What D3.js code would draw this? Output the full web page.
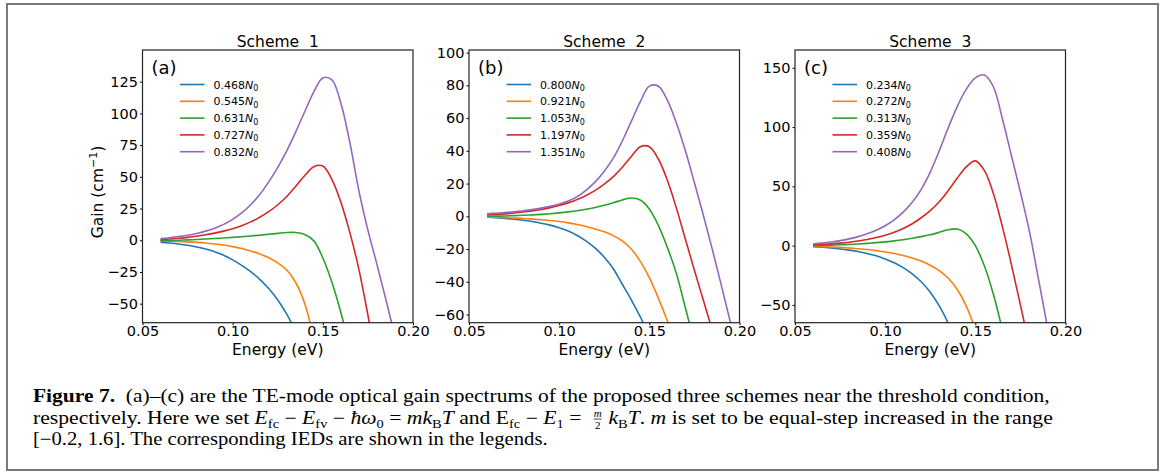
<!DOCTYPE html>
<html>
<head>
<meta charset="utf-8">
<script src="https://cdn.jsdelivr.net/npm/d3@7"></script>
<style>
  body { margin: 0; background: #fff; }
  svg { display: block; }
  .tick text { font-family: "DejaVu Sans", sans-serif; }
</style>
</head>
<body>
<svg id="fig" width="1165" height="472"></svg>
<script>
// Data (gain in cm^-1 against photon energy in eV)
const energy = [0.06, 0.065, 0.07, 0.075, 0.08, 0.085, 0.09, 0.095, 0.10, 0.105,
    0.11, 0.115, 0.12, 0.125, 0.13, 0.135, 0.14, 0.145, 0.15, 0.155,
    0.16, 0.165, 0.17, 0.175, 0.18, 0.185, 0.19, 0.195, 0.20]

const schemeTitles = ["Scheme  1", "Scheme  2", "Scheme  3"]
const panelLetters = ["(a)", "(b)", "(c)"]

const iedScheme1 = ["0.468", "0.545", "0.631", "0.727", "0.832"]
const iedScheme2 = ["0.800", "0.921", "1.053", "1.197", "1.351"]
const iedScheme3 = ["0.234", "0.272", "0.313", "0.359", "0.408"]

const gainScheme1 = [
    [-1.5, -2.2, -3.0, -4.0, -5.3, -6.9, -9.0, -11.8, -15.5, -19.8, -24.8, -30.8, -38.1, -47.1, -58.3, -72.1],
    [-0.5, -0.7, -1.0, -1.3, -1.7, -2.2, -2.9, -3.8, -5.0, -6.5, -8.4, -10.8, -13.8, -17.8, -23.5, -33.5, -50, -78],
    [-0.5, -0.3, 0, 0.3, 0.6, 1.0, 1.4, 1.8, 2.3, 2.8, 3.4, 4.0, 4.7, 5.4, 6.1, 6.1, 4.5, -0.5, -14, -33, -57, -85],
    [0.5, 1.0, 1.6, 2.3, 3.2, 4.3, 5.6, 7.2, 9.1, 11.5, 14.5, 18.1, 22.5, 28, 34.5, 42.5, 51, 58, 58.5, 48, 30, 6, -23, -59, -98],
    [1.3, 2.0, 2.9, 4.0, 5.4, 7.2, 9.5, 12.5, 16.5, 21.5, 28, 36, 46, 57.5, 70.5, 85.5, 101.5, 117, 128, 126.5, 108, 77, 39, 8, -19, -47, -76]
]
const gainScheme2 = [
    [-0.6, -0.9, -1.3, -1.8, -2.4, -3.2, -4.2, -5.4, -7.0, -9.0, -11.7, -15.2, -19.5, -25, -32, -41.5, -51, -61.5, -73],
    [-0.4, -0.6, -0.8, -1.0, -1.3, -1.7, -2.1, -2.6, -3.2, -4.0, -5.0, -6.2, -7.7, -9.5, -11.8, -15, -20, -27.5, -37.5, -50, -64, -80],
    [0, 0.1, 0.2, 0.4, 0.6, 0.9, 1.2, 1.6, 2.1, 2.7, 3.4, 4.3, 5.4, 6.7, 8.3, 10, 11.2, 10, 4.5, -5.5, -19, -35, -56, -77],
    [0.8, 1.1, 1.5, 2.0, 2.6, 3.3, 4.2, 5.3, 6.6, 8.2, 10.2, 12.7, 15.8, 19.6, 24.2, 30, 36.5, 42.5, 42.5, 35, 22, 5, -14, -33, -51.5, -70],
    [1.6, 1.9, 2.3, 2.8, 3.4, 4.1, 5.0, 6.1, 7.5, 9.3, 12.0, 16.0, 21.0, 27.5, 35.5, 46, 58, 70, 79.5, 79.5, 71, 57, 40, 20.5, 0.5, -20.5, -42.5, -65, -88]
]
const gainScheme3 = [
    [-0.8, -1.3, -2.0, -2.8, -3.8, -5.0, -6.6, -8.6, -11.2, -14.4, -18.5, -23.8, -30.5, -39.3, -50.8, -65.5, -84],
    [-0.6, -0.8, -1.1, -1.5, -2.0, -2.6, -3.3, -4.2, -5.3, -6.6, -8.3, -10.4, -13, -16.5, -21, -27.5, -37, -51, -71],
    [0, 0.2, 0.4, 0.7, 1.0, 1.4, 1.9, 2.5, 3.2, 4.0, 5.0, 6.2, 7.6, 9.2, 11.2, 13.4, 14, 10, 0, -17, -41, -71],
    [0.6, 1.0, 1.5, 2.1, 2.9, 3.9, 5.2, 6.8, 8.8, 11.3, 14.5, 18.5, 23.5, 29.5, 37, 46.5, 57, 66.5, 71.5, 63.5, 44, 16, -16, -50, -85],
    [1.4, 2.1, 3.0, 4.2, 5.7, 7.6, 10, 13, 16.8, 21.8, 28.2, 36.5, 47.5, 62, 80, 99.5, 117.5, 132, 141.5, 144, 134, 107, 76, 45, 12, -28, -69, -110]
]

const yTicksScheme1 = [-50, -25, 0, 25, 50, 75, 100, 125]
const yTicksScheme2 = [-60, -40, -20, 0, 20, 40, 60, 80, 100]
const yTicksScheme3 = [-50, 0, 50, 100, 150]
const xTicks = [0.05, 0.10, 0.15, 0.20]

const yDomains = [[-65, 150], [-65, 101.6], [-65, 165]]
const xDomain = [0.05, 0.20]

const colors = ['#1f77b4', '#ff7f0e', '#2ca02c', '#d62728', '#9467bd']

// Layout
const svg = d3.select("#fig")
const axTop = 50
const axBottom = 322.7
const axLefts = [142.5, 469, 795]
const axWidth = 270.5

svg.append('rect')
    .attr('x', 7).attr('y', 4)
    .attr('width', 1151).attr('height', 466)
    .attr('fill', 'none')
    .attr('stroke', '#7a7a7a')
    .attr('stroke-width', 2)

const panels = [
    { gains: gainScheme1, ieds: iedScheme1, yTicks: yTicksScheme1 },
    { gains: gainScheme2, ieds: iedScheme2, yTicks: yTicksScheme2 },
    { gains: gainScheme3, ieds: iedScheme3, yTicks: yTicksScheme3 }
]

panels.forEach((p, k) => {
    const left = axLefts[k]
    const x = d3.scaleLinear().domain(xDomain).range([left, left + axWidth])
    const y = d3.scaleLinear().domain(yDomains[k]).range([axBottom, axTop])

    const g = svg.append('g')

    g.append('clipPath').attr('id', `clip-${k}`)
        .append('rect')
        .attr('x', left).attr('y', axTop)
        .attr('width', axWidth).attr('height', axBottom - axTop)

    // curves
    const line = d3.line()
        .x(d => x(d[0]))
        .y(d => y(d[1]))
        .curve(d3.curveCatmullRom.alpha(0.5))

    p.gains.forEach((vals, i) => {
        const pts = vals.map((v, j) => [energy[j], v])
        g.append('path')
            .attr('clip-path', `url(#clip-${k})`)
            .attr('d', line(pts))
            .attr('fill', 'none')
            .attr('stroke', colors[i])
            .attr('stroke-width', 1.6)
    })

    // axes with short ticks
    const xAxis = d3.axisBottom(x).tickValues(xTicks).tickFormat(d3.format('.2f'))
        .tickSizeInner(2.5).tickSizeOuter(0).tickPadding(1)
    const yAxis = d3.axisLeft(y).tickValues(p.yTicks).tickFormat(d3.format('d'))
        .tickSizeInner(2.5).tickSizeOuter(0).tickPadding(2)

    const gx = g.append('g').attr('transform', `translate(0,${axBottom})`).call(xAxis)
    const gy = g.append('g').attr('transform', `translate(${left},0)`).call(yAxis)
    ;[gx, gy].forEach(a => {
        a.select('.domain').remove()
        a.selectAll('.tick text').attr('font-size', 14.5).attr('fill', '#000')
        a.selectAll('.tick line').attr('stroke', '#000').attr('stroke-width', 1)
    })
    gx.selectAll('.tick text').attr('dy', '0.71em')

    g.append('rect')
        .attr('x', left).attr('y', axTop)
        .attr('width', axWidth).attr('height', axBottom - axTop)
        .attr('fill', 'none')
        .attr('stroke', '#222')
        .attr('stroke-width', 1.2)

    // titles and labels
    g.append('text')
        .attr('x', left + axWidth / 2).attr('y', 46.5)
        .attr('text-anchor', 'middle')
        .attr('font-family', 'DejaVu Sans, sans-serif')
        .attr('font-size', 15.5)
        .style('white-space', 'pre')
        .text(schemeTitles[k])

    g.append('text')
        .attr('x', left + axWidth / 2).attr('y', 354.5)
        .attr('text-anchor', 'middle')
        .attr('font-family', 'DejaVu Sans, sans-serif')
        .attr('font-size', 15.5)
        .text('Energy (eV)')

    g.append('text')
        .attr('x', left + 9).attr('y', 73.5)
        .attr('font-family', 'DejaVu Sans, sans-serif')
        .attr('font-size', 18)
        .text(panelLetters[k])

    // legend
    p.ieds.forEach((lab, i) => {
        const ly = 84.5 + i * 16.8
        g.append('line')
            .attr('x1', left + 37.5).attr('x2', left + 62)
            .attr('y1', ly).attr('y2', ly)
            .attr('stroke', colors[i]).attr('stroke-width', 1.6)
        const t = g.append('text')
            .attr('x', left + 71).attr('y', ly + 4)
            .attr('font-family', 'DejaVu Sans, sans-serif')
            .attr('font-size', 11)
        t.append('tspan').text(lab)
        t.append('tspan').attr('font-style', 'italic').text('N')
        t.append('tspan').attr('font-size', 8).attr('dy', 2.5).text('0')
    })
})

// y-axis label on the first panel
const gl = svg.append('text')
    .attr('transform', 'translate(103,192) rotate(-90)')
    .attr('text-anchor', 'middle')
    .attr('font-family', 'DejaVu Sans, sans-serif')
    .attr('font-size', 15.5)
gl.append('tspan').text('Gain (cm')
gl.append('tspan').attr('font-size', 11).attr('dy', -6).text('\u22121')
gl.append('tspan').attr('dy', 6).text(')')

// caption
const capFont = 'Liberation Serif, Times New Roman, serif'
const capX = 33
const capSize = 18

// runs: [text, kind]  kind letters: b bold, i italic, s subscript, f fraction slot
function richLine(yPos, runs) {
    const t = svg.append('text').attr('x', capX).attr('y', yPos)
        .attr('font-family', capFont).attr('font-size', capSize)
        .style('white-space', 'pre')
    let shift = 0
    let slot = null
    runs.forEach(([txt, kind = '']) => {
        const ts = t.append('tspan').text(txt)
        const target = kind.includes('s') ? 4 : 0
        if (kind.includes('s')) ts.attr('font-size', 12)
        if (kind.includes('i')) ts.attr('font-style', 'italic')
        if (kind.includes('b')) ts.attr('font-weight', 'bold')
        if (target != shift) ts.attr('dy', target - shift)
        shift = target
        if (kind.includes('f')) slot = ts
    })
    return { t, slot }
}

function squeeze(t, s) {
    t.attr('transform', `translate(${capX},0) scale(${s},1) translate(${-capX},0)`)
}
function fitWidth(t, w) {
    const s = w / t.node().getBBox().width
    squeeze(t, s)
    return s
}

const line1 = richLine(402, [
    ['Figure 7.', 'b'],
    ['  (a)\u2013(c) are the TE-mode optical gain spectrums of the proposed three schemes near the threshold condition,']
])
const line2 = richLine(424, [
    ['respectively. Here we set '], ['E', 'i'], ['fc', 's'], [' \u2212 '], ['E', 'i'], ['fv', 's'],
    [' \u2212 '], ['\u0127\u03c9', 'i'], ['0', 's'], [' = '], ['mk', 'i'], ['B', 's'], ['T', 'i'],
    [' and E'], ['fc', 's'], [' \u2212 '], ['E', 'i'], ['1', 's'], [' = '], ['\u2002\u2002', 'f'],
    ['k', 'i'], ['B', 's'], ['T', 'i'], ['. '], ['m', 'i'],
    [' is set to be equal-step increased in the range']
])
const line3 = richLine(445, [
    ['[\u22120.2, 1.6]. The corresponding IEDs are shown in the legends.']
])

fitWidth(line1.t, 1017)
const s2 = fitWidth(line2.t, 1020)
fitWidth(line3.t, 515)

// the m/2 fraction in the slot of line 2
const slotNode = line2.slot.node()
const slotStart = slotNode.getStartPositionOfChar(0).x
const slotLen = slotNode.getComputedTextLength()
const fx = capX + (slotStart + slotLen / 2 - capX) * s2
svg.append('text').attr('x', fx).attr('y', 416.5).attr('text-anchor', 'middle')
    .attr('font-family', capFont).attr('font-style', 'italic').attr('font-size', 11).text('m')
svg.append('line').attr('x1', fx - 4).attr('x2', fx + 4).attr('y1', 419).attr('y2', 419)
    .attr('stroke', '#000').attr('stroke-width', 0.7)
svg.append('text').attr('x', fx).attr('y', 428.5).attr('text-anchor', 'middle')
    .attr('font-family', capFont).attr('font-size', 11).text('2')
</script>
</body>
</html>
